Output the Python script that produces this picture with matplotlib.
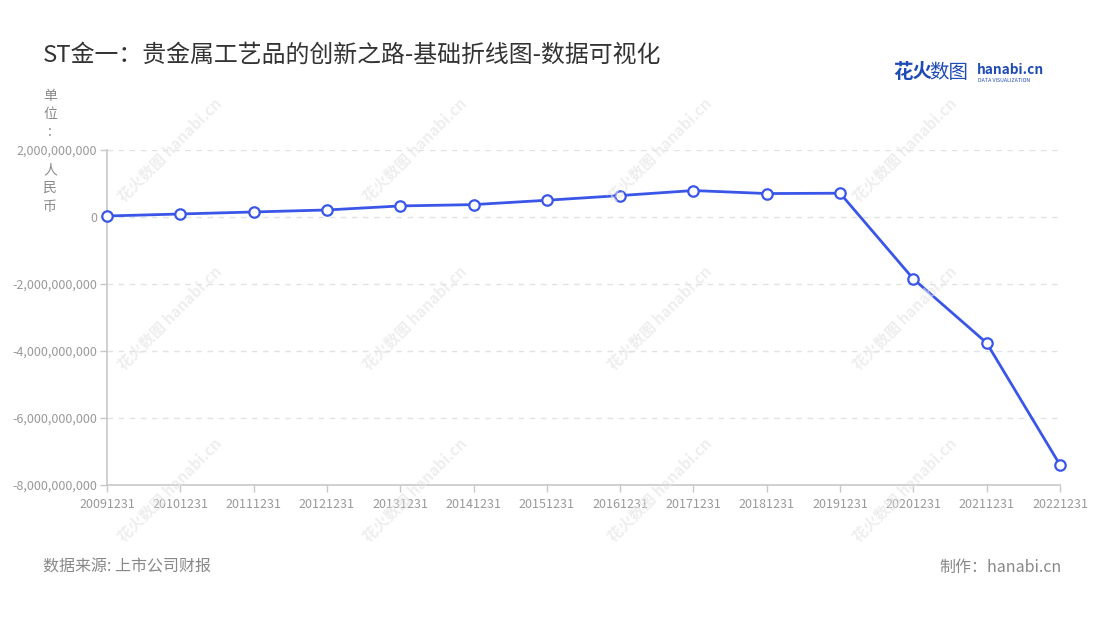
import matplotlib
matplotlib.use('Agg')
import matplotlib.pyplot as plt
from matplotlib.ticker import FuncFormatter

plt.rcParams['font.family'] = ['Noto Sans CJK SC', 'DejaVu Sans']

# data
dates = ['20091231', '20101231', '20111231', '20121231', '20131231',
         '20141231', '20151231', '20161231', '20171231', '20181231',
         '20191231', '20201231', '20211231', '20221231']
values = [0.03e9, 0.09e9, 0.15e9, 0.21e9, 0.33e9, 0.37e9, 0.50e9,
          0.64e9, 0.79e9, 0.70e9, 0.71e9, -1.85e9, -3.76e9, -7.40e9]
y_ticks = [2e9, 0, -2e9, -4e9, -6e9, -8e9]

title = 'ST金一：贵金属工艺品的创新之路-基础折线图-数据可视化'
unit = '单位:人民币'
source = '数据来源: 上市公司财报'
maker = '制作：hanabi.cn'

c_line = '#3a56e8'
c_axis = '#c8c8c8'
c_tick = '#999999'

fig = plt.figure(figsize=(11, 6.2), dpi=100)
ax = fig.add_axes([107 / 1100., 1 - 485 / 620., (1060 - 107) / 1100.,
                   (485 - 150) / 620.])

x = list(range(len(dates)))
ax.plot(x, values, color=c_line, lw=2.0, marker='o', ms=7.5,
        mfc='white', mec=c_line, mew=1.6, zorder=5, clip_on=False)

ax.set_xlim(0, len(dates) - 1)
ax.set_ylim(-8e9, 2e9)
ax.set_xticks(x)
ax.set_xticklabels(dates)
ax.set_yticks(y_ticks)
ax.yaxis.set_major_formatter(FuncFormatter(lambda v, p: '{:,.0f}'.format(v)))

for s in ['top', 'right']:
    ax.spines[s].set_visible(False)
for s in ['left', 'bottom']:
    ax.spines[s].set_color(c_axis)
    ax.spines[s].set_linewidth(1.2)
ax.tick_params(axis='both', colors=c_axis, labelcolor=c_tick, labelsize=9,
               length=5, width=1)
ax.tick_params(axis='x', pad=4)
ax.tick_params(axis='y', pad=2)

for v in y_ticks[:-1]:
    ax.axhline(v, color='#e2e2e2', lw=1, ls=(0, (4, 4)), zorder=0)

# title, unit, footer
fig.text(43 / 1100., 1 - 55 / 620., title, fontsize=17.2, color='#333333',
         va='center', ha='left')
# unit label: stacked characters, leaving a gap for the top tick label
unit_y = [96, 114, 132, 170, 188, 207]
for ch, uy in zip(unit, unit_y):
    fig.text(50 / 1100., 1 - uy / 620., ch, fontsize=10, color='#8a8a8a',
             ha='center', va='center')
fig.text(43 / 1100., 1 - 567 / 620., source, fontsize=11.5, color='#888888',
         va='center', ha='left')
fig.text(1062 / 1100., 1 - 567 / 620., maker, fontsize=11.5, color='#888888',
         va='center', ha='right')

# logo
fig.text(893 / 1100., 1 - 73 / 620., '花火', fontsize=14, color='#1f4bb5',
         weight='bold', va='center', ha='left')
fig.text(929 / 1100., 1 - 73 / 620., '数图', fontsize=14, color='#1f4bb5',
         va='center', ha='left')
fig.text(977 / 1100., 1 - 70 / 620., 'hanabi.cn', fontsize=9.8,
         color='#1f4bb5', weight='bold', va='center', ha='left')
fig.text(978 / 1100., 1 - 81 / 620., 'DATA VISUALIZATION', fontsize=3.8,
         color='#1f4bb5', va='center', ha='left')

# watermarks
for wx in [170, 415, 660, 905]:
    for wy in [150, 318, 490]:
        fig.text(wx / 1100., 1 - wy / 620., '花火数图 hanabi.cn',
                 fontsize=11, color='#e4e4e4', alpha=0.6, rotation=45,
                 ha='center', va='center', weight='bold', zorder=0)

fig.savefig('out.png', dpi=100)
